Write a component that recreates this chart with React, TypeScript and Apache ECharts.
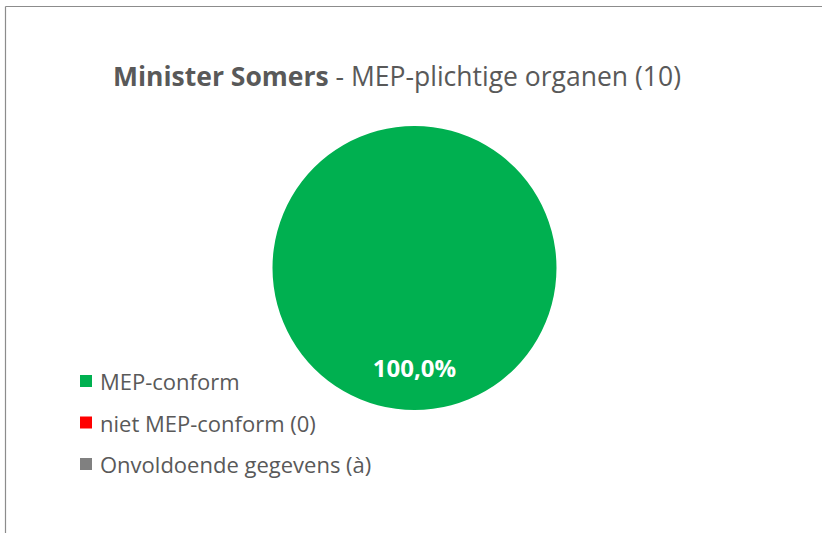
import React, { useEffect, useRef } from "react";
import * as echarts from "echarts";

const titleBold = "Minister Somers";
const titleRest = " - MEP-plichtige organen (10)";
const categories = ["MEP-conform", "niet MEP-conform (0)", "Onvoldoende gegevens (à)"];
const values = [10, 0, 0];
const colors = ["#00B050", "#FF0000", "#808080"];

export default function App() {
  const ref = useRef<HTMLDivElement>(null);
  useEffect(() => {
    const chart = echarts.init(ref.current!, null, { renderer: "svg" });
    const total = values.reduce((a, b) => a + b, 0);
    const font = "'Open Sans', sans-serif";
    chart.setOption({
      animation: false,
      backgroundColor: "#ffffff",
      title: {
        text: `{b|${titleBold}}{n|${titleRest}}`,
        left: 113,
        top: 62,
        padding: 0,
        textStyle: {
          fontWeight: "normal",
          rich: {
            b: { fontFamily: font, fontSize: 26.5, fontWeight: "bold", color: "#595959" },
            n: { fontFamily: font, fontSize: 26.5, fontWeight: "normal", color: "#595959" },
          },
        },
      },
      legend: {
        orient: "vertical",
        left: 80,
        top: 370,
        padding: 0,
        icon: "rect",
        itemWidth: 12,
        itemHeight: 12,
        itemGap: 19.5,
        data: categories,
        textStyle: { fontFamily: font, fontSize: 22, color: "#595959", lineHeight: 22, padding: [0, 0, 0, 3] },
      },
      graphic: [
        { type: "line", shape: { x1: 5.5, y1: 6.5, x2: 5.5, y2: 540 }, style: { stroke: "#8c8c8c", lineWidth: 1.2 } },
        { type: "line", shape: { x1: 5.5, y1: 6.5, x2: 830, y2: 6.5 }, style: { stroke: "#8c8c8c", lineWidth: 1.2 } },
      ],
      series: [
        {
          type: "pie",
          center: [414.5, 268],
          radius: [0, 142],
          startAngle: 90,
          clockwise: true,
          silent: true,
          itemStyle: { borderWidth: 0 },
          label: {
            show: true,
            position: "inside",
            fontFamily: font,
            fontSize: 24,
            fontWeight: "bold",
            color: "#ffffff",
            formatter: (p: any) =>
              p.value > 0 ? ((p.value / total) * 100).toFixed(1).replace(".", ",") + "%" : "",
          },
          labelLayout: { dy: 25 },
          labelLine: { show: false },
          data: categories.map((c, i) => ({ name: c, value: values[i], itemStyle: { color: colors[i] } })),
        },
      ],
    });
    return () => chart.dispose();
  }, []);
  return (
    <div
      ref={ref}
      style={{ position: "fixed", left: 0, top: 0, width: 822, height: 533 }}
    />
  );
}
